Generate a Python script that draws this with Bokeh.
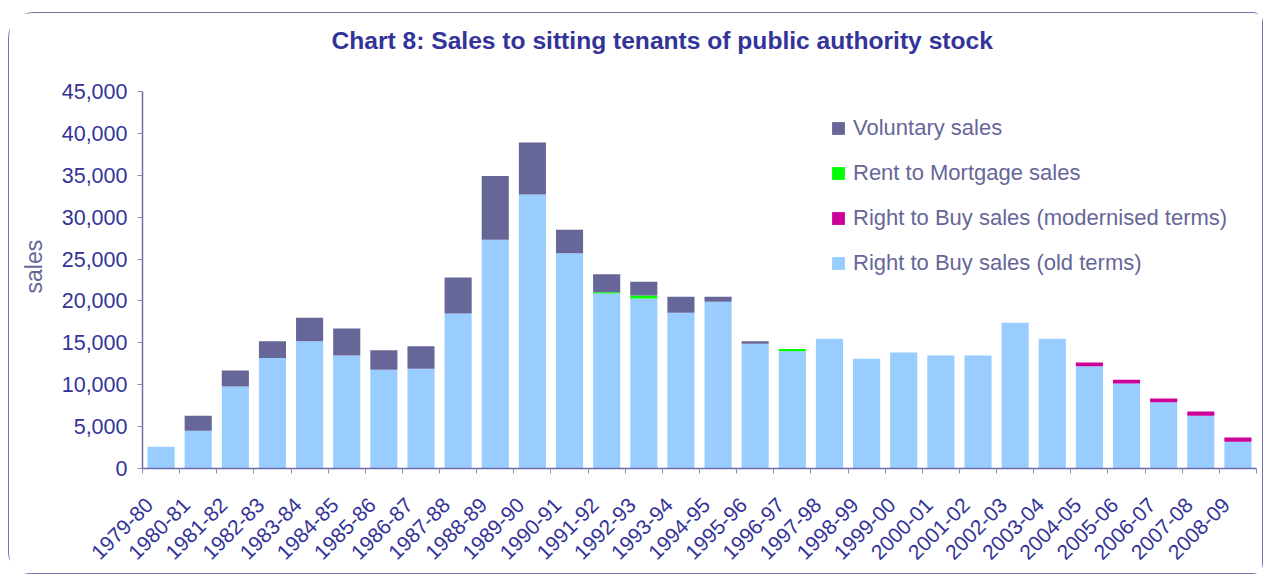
import math
from bokeh.plotting import figure
from bokeh.models import (FixedTicker, Legend, LegendItem, Range1d,
                          NumeralTickFormatter, Title, ColumnDataSource)
from bokeh.embed import file_html
from bokeh.resources import INLINE

categories = ["1979-80", "1980-81", "1981-82", "1982-83", "1983-84", "1984-85",
              "1985-86", "1986-87", "1987-88", "1988-89", "1989-90", "1990-91",
              "1991-92", "1992-93", "1993-94", "1994-95", "1995-96", "1996-97",
              "1997-98", "1998-99", "1999-00", "2000-01", "2001-02", "2002-03",
              "2003-04", "2004-05", "2005-06", "2006-07", "2007-08", "2008-09"]

rtb_old_terms = [2600, 4500, 9800, 13200, 15200, 13500, 11800, 11900, 18500, 27300,
                 32700, 25700, 20900, 20300, 18600, 19900, 14900, 14000, 15500, 13100,
                 13850, 13500, 13500, 17400, 15500, 12200, 10150, 7900, 6300, 3200]
rtb_modernised = [0, 0, 0, 0, 0, 0, 0, 0, 0, 0,
                  0, 0, 0, 0, 0, 0, 0, 0, 0, 0,
                  0, 0, 0, 0, 0, 450, 450, 450, 500, 500]
rent_to_mortgage = [0, 0, 0, 0, 0, 0, 0, 0, 0, 0,
                    0, 0, 150, 350, 0, 0, 0, 250, 0, 0,
                    0, 0, 0, 0, 0, 0, 0, 0, 0, 0]
voluntary = [0, 1800, 1900, 2000, 2800, 3200, 2300, 2700, 4300, 7600,
             6200, 2800, 2150, 1650, 1900, 600, 300, 0, 0, 0,
             0, 0, 0, 0, 0, 0, 0, 0, 0, 0]

series_names = ["Right to Buy sales (old terms)",
                "Right to Buy sales (modernised terms)",
                "Rent to Mortgage sales",
                "Voluntary sales"]
colors = ["#99ccff", "#cc0099", "#00ff00", "#666699"]
y_ticks = list(range(0, 45001, 5000))

FONT = "Liberation Sans"
LABEL_SHIFT = 0.3125
src = ColumnDataSource(dict(x=list(range(len(categories))), old=rtb_old_terms,
                            mod=rtb_modernised, rtm=rent_to_mortgage, vol=voluntary))

p = figure(width=1255, height=562, output_backend="svg", toolbar_location=None,
           title=None,
           x_range=Range1d(-0.5, len(categories) - 0.5), y_range=Range1d(0, 45000),
           min_border_left=133, min_border_right=8, min_border_top=78,
           min_border_bottom=107, outline_line_color=None)
p.styles = {"border": "1.5px solid #7474aa", "border-radius": "26px 10px 10px 22px",
            "margin-top": "12px", "margin-left": "8px"}

# spacer between frame and title, then the title itself (outermost)
p.add_layout(Title(text=" ", text_font_size="10px", standoff=20), "above")
p.add_layout(Title(text="Chart 8: Sales to sitting tenants of public authority stock",
                   align="left", text_font=FONT, text_font_size="24.6px",
                   text_font_style="bold", text_color="#333399", offset=189,
                   standoff=10), "above")

rs = p.vbar_stack(["old", "mod", "rtm", "vol"], x="x", width=0.73, color=colors,
                  line_color=None, source=src)

p.xgrid.grid_line_color = None
p.ygrid.grid_line_color = None

ya = p.yaxis[0]
ya.ticker = FixedTicker(ticks=y_ticks)
ya.formatter = NumeralTickFormatter(format="0,0")
ya.axis_line_color = "#6b6ba5"
ya.axis_line_width = 1.5
ya.major_tick_line_color = "#8c8cb5"
ya.major_tick_out = 5
ya.major_tick_in = 0
ya.minor_tick_line_color = None
ya.major_label_text_font = FONT
ya.major_label_text_font_size = "21.5px"
ya.major_label_text_color = "#333399"
ya.major_label_standoff = 10

p.add_layout(Title(text="sales", align="left", offset=175, vertical_align="top",
                   standoff=20, text_font=FONT, text_font_size="23px",
                   text_font_style="normal", text_color="#666699"), "left")

xa = p.xaxis[0]
label_ticks = [i - LABEL_SHIFT for i in range(len(categories))]
xa.ticker = FixedTicker(ticks=label_ticks,
                        minor_ticks=[i - 0.5 for i in range(len(categories) + 1)])
xa.major_label_overrides = {t: c for t, c in zip(label_ticks, categories)}
xa.axis_line_color = "#6b6ba5"
xa.axis_line_width = 1.5
xa.major_tick_line_color = None
xa.major_tick_out = 0
xa.major_tick_in = 0
xa.minor_tick_line_color = "#8c8cb5"
xa.minor_tick_out = 5
xa.minor_tick_in = 0
xa.major_label_orientation = math.pi / 4
xa.major_label_text_font = FONT
xa.major_label_text_font_size = "21px"
xa.major_label_text_color = "#333399"
xa.major_label_standoff = 28

items = [LegendItem(label=series_names[i], renderers=[rs[i]]) for i in [3, 2, 1, 0]]
legend = Legend(items=items, location=(688, 192), glyph_height=16, glyph_width=16,
                label_height=26, spacing=19, label_standoff=7, padding=0, margin=0,
                border_line_color=None, background_fill_alpha=0,
                label_text_font=FONT, label_text_font_size="22px",
                label_text_color="#666699")
p.add_layout(legend, "center")

open("out.html", "w").write(file_html(p, INLINE))
